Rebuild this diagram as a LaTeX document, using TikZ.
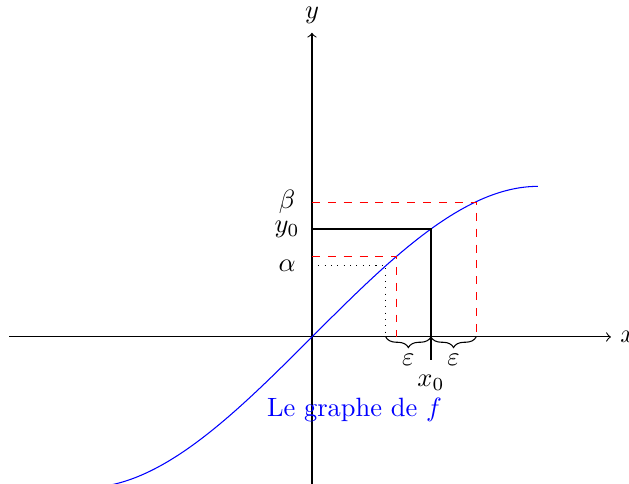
\documentclass[tikz,border=0pt]{standalone}
\usepackage{amsmath,amssymb}
\usepackage{xcolor}
\usepackage{tikz}
\usetikzlibrary{decorations.pathreplacing}

\begin{document}
\begin{tikzpicture}[
  axis/.style={->},
  guide/.style={red, dashed},
  mark0/.style={thick},
  epsbrace/.style={decorate, decoration={brace, mirror, amplitude=4pt}}
]
\clip (-4.143,-1.952) rectangle (4.210,4.475);
% axes
\coordinate (xmin) at (-4.02,0);
\coordinate (xmax) at (3.97,0);
\coordinate (ymin) at (0,-2);
\coordinate (ymax) at (0,4.04);
\draw[axis] (xmin) -- (xmax) node[right] (xlab) {$x$};
\draw[axis] (ymin) -- (ymax) node[above] (ylab) {$y$};
% the graph
\coordinate (start) at (-3,-2);
\coordinate (stop) at (3,2);
\draw[blue] (start) .. controls (-1,-2) and (1,2) .. (stop);
\node[blue] (graph) at (0.565,-0.97) {Le graphe de $f$};
% points on the curve
\coordinate (M) at (1.58,1.434);
\coordinate (Mx) at (1.58,0);
\coordinate (My) at (0,1.434);
\coordinate (Mt) at (1.58,-0.305);
\coordinate (B) at (2.18,1.788);
\coordinate (Bx) at (2.18,0);
\coordinate (By) at (0,1.788);
\coordinate (A) at (1.124,1.0715);
\coordinate (Ax) at (1.124,0);
\coordinate (Ay) at (0,1.0715);
\coordinate (C) at (0.98,0.945);
\coordinate (Cx) at (0.98,0);
\coordinate (Cy) at (0,0.945);
\draw[guide] (By) -- (B) -- (Bx);
\draw[guide] (Ay) -- (A) -- (Ax);
\draw[dotted] (Cy) -- (C) -- (Cx);
\draw[mark0] (My) -- (M) -- (Mt);
% labels
\node (beta) at (-0.33,1.796) {$\beta$};
\node (y0) at (-0.33,1.434) {$y_0$};
\node (alpha) at (-0.33,0.945) {$\alpha$};
\node (x0) at (1.58,-0.61) {$x_0$};
\draw[epsbrace] (Cx) -- (Mx);
\draw[epsbrace] (Mx) -- (Bx);
\node (eps1) at (1.28,-0.305) {$\varepsilon$};
\node (eps2) at (1.88,-0.305) {$\varepsilon$};
\end{tikzpicture}
\end{document}
